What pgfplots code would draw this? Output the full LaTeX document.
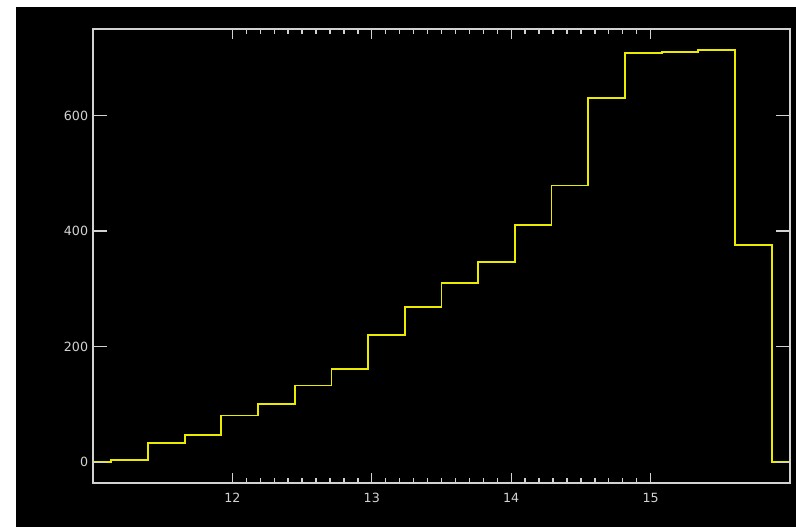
\documentclass[border=0pt]{standalone}
\usepackage{pgfplots}
\pgfplotsset{compat=1.18}
\usepackage{fontspec}
\setmainfont{DejaVu Sans}
\definecolor{idlyellow}{RGB}{235,235,0}
\definecolor{axgray}{RGB}{210,210,210}
\pgfplotsset{idlbase/.style={
 at={(69.75pt,33pt)}, anchor=south west,
 scale only axis, width=522.75pt, height=340.5pt,
 xmin=11, xmax=16, ymin=-35.7, ymax=749.7,
 axis line style={axgray, line width=1pt},
 tick style={axgray, line width=1pt},
 tick align=inside, xtick pos=both, ytick pos=both,
 ticklabel style={font=\fontsize{9.5}{11}\selectfont, text=axgray},
 xticklabel style={anchor=north, inner sep=0pt, yshift=-7.5pt},
 yticklabel style={anchor=east, inner sep=0pt, xshift=-3.5pt},
 /pgf/number format/assume math mode=true,
 axis on top,
}}
\begin{document}
\begin{tikzpicture}[x=0.75pt,y=0.75pt]
\fill[white] (0,0) rectangle (796,527);
\fill[black] (16,0) rectangle (796,520);
\begin{axis}[idlbase,
 xtick=\empty,
 ytick={0,200,400,600},
 major tick length=10.5pt,
]
\addplot[const plot mark mid, idlyellow, line width=1.4pt, mark=none] coordinates {
(11.0000,0) (11.2632,4) (11.5263,34) (11.7895,48) (12.0526,81)
(12.3158,101) (12.5789,133) (12.8421,161) (13.1053,220) (13.3684,269)
(13.6316,310) (13.8947,346) (14.1579,410) (14.4211,479) (14.6842,631)
(14.9474,708) (15.2105,710) (15.4737,714) (15.7368,376) (16.0000,1)
};
\end{axis}
\begin{axis}[idlbase,
 ytick=\empty,
 xtick={12,13,14,15}, minor x tick num=9,
 major tick length=7.5pt, minor tick length=3.75pt,
]
\end{axis}
\end{tikzpicture}
\end{document}
